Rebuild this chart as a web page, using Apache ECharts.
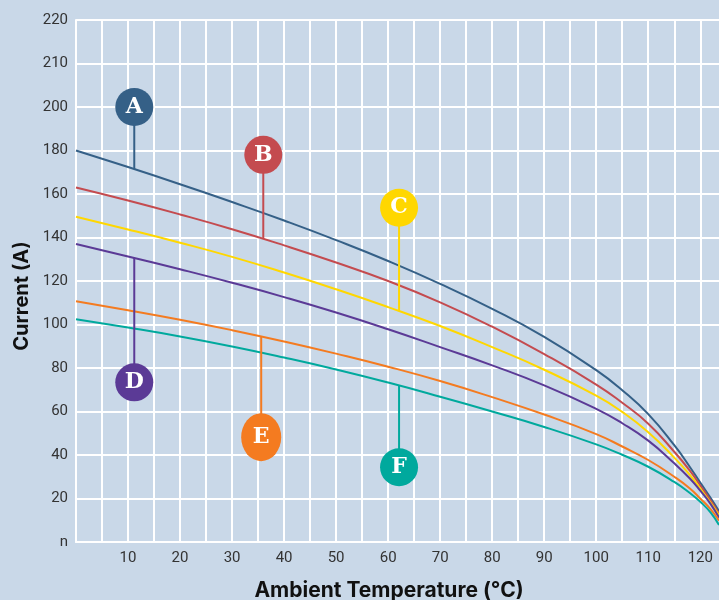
<!DOCTYPE html>
<html>
<head>
<meta charset="utf-8">
<script src="https://cdn.jsdelivr.net/npm/echarts@6/dist/echarts.min.js"></script>
<style>
html,body{margin:0;padding:0;background:#c9d8e8;}
#chart{width:719px;height:600px;}
</style>
</head>
<body>
<div id="chart"></div>
<script>
// Temperatures (°C) sampled along the curves
var temps = [0, 10, 20, 30, 40, 50, 60, 70, 80, 90, 100, 105, 110, 115, 118, 120, 122, 123.6];
// Current (A) for each curve
var curveA = [180, 172.4, 164.5, 156.3, 147.8, 138.8, 129.2, 118.7, 107.2, 94.3, 79, 69.8, 58.8, 44.5, 34.5, 27.3, 20.2, 14.2];
var curveB = [163, 157, 150.6, 143.8, 136.4, 128.5, 120, 110.2, 99, 86.4, 72.4, 64, 54.4, 41.5, 32.8, 26, 19, 13];
var curveC = [149.5, 143.7, 137.6, 131.1, 123.9, 116.2, 108, 99.3, 89.6, 79.2, 67.3, 59.8, 50.5, 38.8, 30.8, 24.5, 18, 12.3];
var curveD = [137, 131.3, 125.4, 119.2, 112.6, 105.5, 97.8, 89.6, 81.2, 72, 61.2, 54.6, 46.6, 36.2, 29.2, 23.6, 17.4, 11.2];
var curveE = [110.7, 106.6, 102.2, 97.4, 92.2, 86.6, 80.6, 74, 66.6, 58.6, 49.6, 43.9, 37.7, 30, 24.6, 20, 15, 9.8];
var curveF = [102.4, 98.6, 94.5, 89.9, 84.8, 79.3, 73.3, 66.8, 60, 52.9, 44.9, 40.1, 34.6, 27.6, 22.5, 18.5, 13.5, 7.8];
var curveNames = ['A', 'B', 'C', 'D', 'E', 'F'];
var curveColors = ['#356087', '#c44b4f', '#ffd700', '#5b3a96', '#f47b20', '#00a99d'];
// Pin callouts: temperature, value where the pin meets the curve, value of the badge centre
var pinTemp = [11.2, 36, 62.1, 11.2, 35.6, 62.1];
var pinCurveVal = [171.5, 139.3, 106.3, 130.6, 94.3, 72];
var pinBadgeVal = [200, 178, 153.7, 73.4, 48.2, 34.4];
// Y tick labels (0..240 step 20 on the scale)
var yTickLabels = ['n', '20', '40', '60', '80', '100', '120', '140', '160', '180', '200', '210', '220'];

var curves = [curveA, curveB, curveC, curveD, curveE, curveF];
var series = [];
curves.forEach(function (vals, i) {
  series.push({
    type: 'line', name: curveNames[i], smooth: 0.5, symbol: 'none', z: 3,
    lineStyle: { color: curveColors[i], width: 2 },
    data: temps.map(function (t, k) { return [t, vals[k]]; })
  });
});
curveNames.forEach(function (n, i) {
  series.push({
    type: 'line', symbol: 'none', z: 4,
    lineStyle: { color: curveColors[i], width: 2 },
    data: [[pinTemp[i], pinCurveVal[i]], [pinTemp[i], pinBadgeVal[i]]]
  });
});
series.push({
  type: 'scatter', z: 5,
  symbolSize: function (v, p) { return p.dataIndex === 4 ? [40, 48] : 38; },
  itemStyle: { opacity: 1 },
  label: {
    show: true, position: 'inside', color: '#ffffff',
    fontFamily: 'DejaVu Serif', fontWeight: 'bold', fontSize: 22,
    formatter: function (p) { return curveNames[p.dataIndex]; }
  },
  data: curveNames.map(function (n, i) {
    return { value: [pinTemp[i], pinBadgeVal[i]], itemStyle: { color: curveColors[i] } };
  })
});

var chart = echarts.init(document.getElementById('chart'));
chart.setOption({
  backgroundColor: '#c9d8e8',
  animation: false,
  grid: { left: 76, right: 0, top: 20, bottom: 58, containLabel: false, outerBoundsMode: 'none' },
  xAxis: {
    type: 'value', min: 0, max: 123.6, interval: 5,
    name: 'Ambient Temperature (°C)', nameLocation: 'middle', nameGap: 38,
    nameTextStyle: { fontFamily: 'Inter', fontWeight: 'bold', fontSize: 21, color: '#111', padding: [0, 17, 0, 0] },
    axisLine: { show: true, lineStyle: { color: '#ffffff', width: 2 } },
    axisTick: { show: false },
    axisLabel: {
      color: '#333', fontFamily: 'Roboto', fontSize: 15, margin: 9,
      showMaxLabel: false,
      formatter: function (v) { return (v > 0 && v % 10 === 0) ? String(v) : ''; }
    },
    splitLine: { show: true, showMaxLine: false, lineStyle: { color: '#ffffff', width: 2 } }
  },
  yAxis: {
    type: 'value', min: 0, max: 240, interval: 20,
    name: 'Current (A)', nameLocation: 'middle', nameGap: 42,
    nameTextStyle: { fontFamily: 'Inter', fontWeight: 'bold', fontSize: 20, color: '#111', padding: [0, 30, 0, 0] },
    axisLine: { show: true, lineStyle: { color: '#ffffff', width: 2 } },
    axisTick: { show: false },
    axisLabel: {
      color: '#333', fontFamily: 'Roboto', fontSize: 15, margin: 8,
      formatter: function (v) { return yTickLabels[Math.round(v / 20)]; }
    },
    splitLine: { show: true, lineStyle: { color: '#ffffff', width: 2 } }
  },
  series: series
});
</script>
</body>
</html>
